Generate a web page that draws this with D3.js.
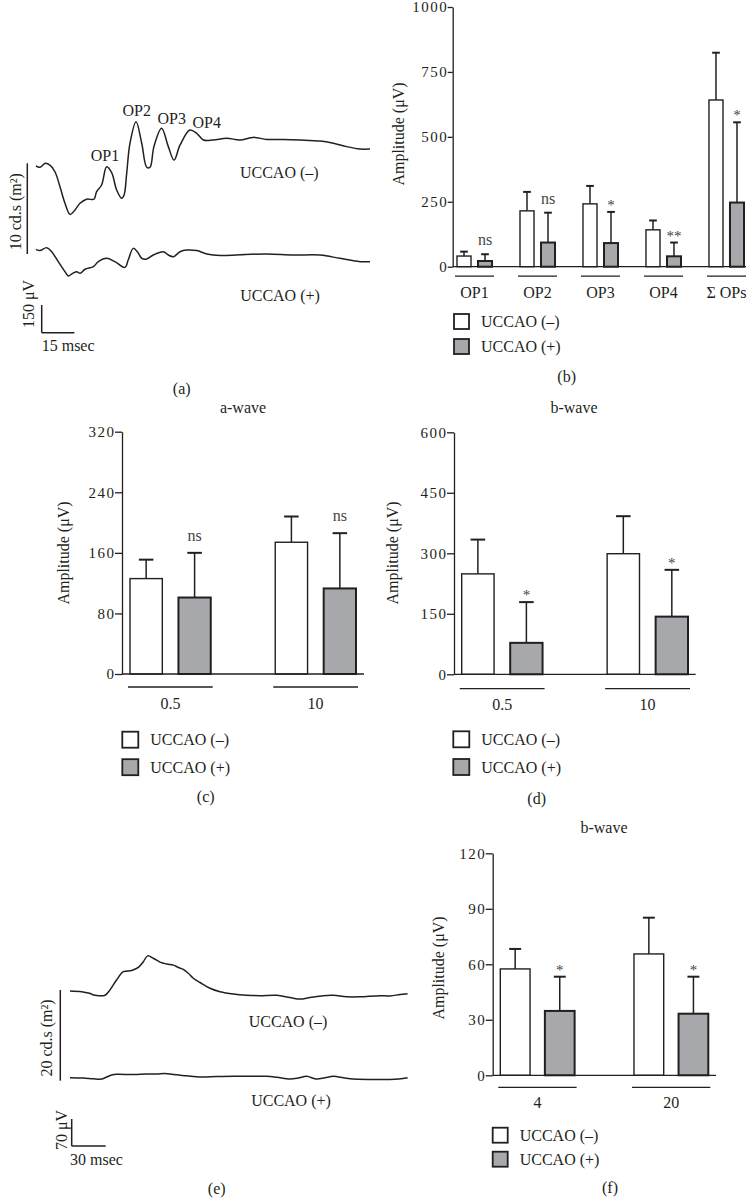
<!DOCTYPE html>
<html>
<head>
<meta charset="utf-8">
<script src="https://cdn.jsdelivr.net/npm/d3@7"></script>
<style>
  body { margin: 0; background: #fff; }
  svg { display: block; }
  text { font-family: "Liberation Serif", "Times New Roman", serif; fill: #231f20; }
</style>
</head>
<body>
<script>
// ---------- DATA ----------
// Panel (a): oscillatory potentials traces (time in ms, amplitude in µV)
const aMinusTime = [0,1.8,4.1,6.4,8.7,11.0,13.3,15.6,17.9,20.2,23.2,26.6,27.8,30.1,32.4,34.7,37.0,39.3,40.4,41.6,43.1,45.9,48.5,50.8,52.3,54.1,57.6,60.7,63.3,66.1,70.6,73.7,76.8,81.3,87.5,93.6,99.7,105.8,113.5,121.1,130.3,136.4,142.5,148.6,153.2];
const aMinus = [0,-7,14,5,-31,-112,-202,-262,-238,-202,-180,-180,-139,-103,-4,-36,-130,-175,-157,-40,123,240,123,-7,-7,105,204,105,32,114,195,177,141,141,150,141,155,144,144,141,135,123,105,92,92];
const aPlusTime = [0,1.8,4.9,7.2,10.2,13.3,14.8,16.8,18.7,20.2,22.5,26.3,28.6,32.4,36.2,40.8,42.3,44.6,46.5,48.5,50.8,53.8,58.4,60.7,63,66.1,69.1,73.7,78.3,84.4,93.6,105.8,118,130.3,139.4,148.6,153.2];
const aPlus = [0,-7,9,-13,-67,-121,-144,-130,-121,-130,-108,-94,-67,-49,-67,-98,-58,5,-13,-49,-52,-31,-13,-31,-40,-13,-4,-7,-25,-34,-29,-25,-31,-31,-49,-67,-67];
const aPeakLabels = ["OP1","OP2","OP3","OP4"];

// Panel (b): OP amplitudes
const bCategories = ["OP1","OP2","OP3","OP4","Σ OPs"];
const bMinus = [41, 215, 242, 142, 642];
const bMinusSD = [17, 73, 69, 36, 182];
const bPlus = [22, 93, 91, 40, 247];
const bPlusSD = [26, 115, 120, 53, 309];
const bSig = ["ns","ns","*","**","*"];
const bTicks = [0, 250, 500, 750, 1000];

// Panel (c): a-wave
const cCategories = ["0.5","10"];
const cMinus = [126, 174];
const cMinusSD = [25, 34];
const cPlus = [101, 113];
const cPlusSD = [59, 73];
const cSig = ["ns","ns"];
const cTicks = [0, 80, 160, 240, 320];

// Panel (d): b-wave
const dCategories = ["0.5","10"];
const dMinus = [249, 299];
const dMinusSD = [85, 93];
const dPlus = [78, 143];
const dPlusSD = [101, 116];
const dSig = ["*","*"];
const dTicks = [0, 150, 300, 450, 600];

// Panel (e): flicker traces
const eMinusTime = [0,10.3,17.1,22.1,30.9,35.3,41.2,47.1,54.4,60.3,64.7,68.5,73.5,79.4,85.3,91.2,95.6,100,104.4,108.8,114.7,123.5,132.4,144.1,155.9,167.6,182.4,194.1,203,211.8,223.5,232.4,244.1,255.9,273.5,282.4,291.2,297.9];
const eMinus = [0,-2,-6,-11,-11,3,29,50,53,61,76,91,85,75,70,67,61,56,46,33,22,7,-2,-8,-11,-12,-11,-17,-21,-17,-12,-11,-15,-15,-12,-13,-9,-7];
const ePlusTime = [0,11.8,20.6,27.9,31.8,36.8,41.2,55.9,67.6,76.5,83.8,91.2,102.9,114.7,129.4,144.1,173.5,182.4,194.1,201.5,208.8,217.6,225,232.4,241.2,250,290,297.9];
const ePlus = [0,-1,-3,-3.5,1,7,9,8,9.5,9.5,11,8,5,2,3,3.5,3.5,1,-3.5,-1,3.5,-3.5,0,3.5,0,-3.5,-3.5,0];

// Panel (f): b-wave (flicker)
const fCategories = ["4","20"];
const fMinus = [57.5, 65.6];
const fMinusSD = [10.8, 19.6];
const fPlus = [34.8, 33.3];
const fPlusSD = [18.5, 20];
const fSig = ["*","*"];
const fTicks = [0, 30, 60, 90, 120];

const groupNames = ["UCCAO (–)", "UCCAO (+)"];

// ---------- DRAWING ----------
const INK = "#231f20";
const GRAY = "#a6a8ab";
const FS = 16;

const svg = d3.select("body").append("svg").attr("width", 748).attr("height", 1198);

function label(x, y, txt, opts = {}) {
  const t = svg.append("text")
    .attr("x", x).attr("y", y)
    .attr("text-anchor", opts.anchor || "middle")
    .attr("dy", "0.35em")
    .attr("font-size", opts.size || FS)
    .text(txt);
  if (opts.rotate) {
    t.attr("x", 0).attr("y", 0).attr("transform", `translate(${x},${y}) rotate(-90)`);
  }
  return t;
}

function vline(x, y1, y2, w = 1.3) {
  svg.append("line").attr("x1", x).attr("x2", x).attr("y1", y1).attr("y2", y2)
    .attr("stroke", INK).attr("stroke-width", w);
}
function hline(x1, x2, y, w = 1.3) {
  svg.append("line").attr("x1", x1).attr("x2", x2).attr("y1", y).attr("y2", y)
    .attr("stroke", INK).attr("stroke-width", w);
}

function trace(times, values, xs, ys) {
  const line = d3.line()
    .x((d, i) => xs(times[i]))
    .y(d => ys(d))
    .curve(d3.curveCatmullRom.alpha(0.5));
  svg.append("path").datum(values).attr("d", line)
    .attr("fill", "none").attr("stroke", INK).attr("stroke-width", 1.5)
    .attr("stroke-linejoin", "round");
}

// ---- Panel (a) ----
{
  const xA = d3.scaleLinear().domain([0, 15]).range([36, 36 + 32.7]);
  const yAm = d3.scaleLinear().domain([0, 150]).range([166, 166 - 27.7]);
  const yAp = d3.scaleLinear().domain([0, 150]).range([249.3, 249.3 - 27.7]);
  trace(aMinusTime, aMinus, xA, yAm);
  trace(aPlusTime, aPlus, xA, yAp);
  vline(27.3, 163.3, 254, 1.5);
  label(15.7, 211.7, "10 cd.s (m²)", { rotate: true });
  const peakPos = [[105, 155], [136.7, 110], [171.7, 118.3], [206.7, 122.3]];
  aPeakLabels.forEach((p, i) => label(peakPos[i][0], peakPos[i][1], p));
  label(279.3, 172.7, groupNames[0]);
  label(280, 295, groupNames[1]);
  const sb0 = xA(0) + 5.7, sbY = 332.7;
  const yScaleBar = d3.scaleLinear().domain([0, 150]).range([sbY, sbY - 27.7]);
  vline(sb0, yScaleBar(150), yScaleBar(0), 1.5);
  hline(sb0, sb0 + (xA(15) - xA(0)), sbY, 1.5);
  label(28, 304, "150 μV", { rotate: true });
  label(41.7, 345, "15 msec", { anchor: "start" });
  label(181.7, 388, "(a)");
}

// ---- Panel (e) ----
{
  const xE = d3.scaleLinear().domain([0, 30]).range([70, 70 + 34]);
  const yEm = d3.scaleLinear().domain([0, 70]).range([991, 991 - 27]);
  const yEp = d3.scaleLinear().domain([0, 70]).range([1077.7, 1077.7 - 27]);
  trace(eMinusTime, eMinus, xE, yEm);
  trace(ePlusTime, ePlus, xE, yEp);
  vline(60.3, 990, 1080.7, 1.5);
  label(46.7, 1038, "20 cd.s (m²)", { rotate: true });
  label(288, 1021.7, groupNames[0]);
  label(291, 1100, groupNames[1]);
  const sb0 = 71.7, sbY = 1146;
  const yScaleBar = d3.scaleLinear().domain([0, 70]).range([sbY, sbY - 27]);
  vline(sb0, yScaleBar(70), yScaleBar(0), 1.5);
  hline(sb0, sb0 + (xE(30) - xE(0)), sbY, 1.5);
  label(61.7, 1130, "70 μV", { rotate: true });
  label(70, 1159.3, "30 msec", { anchor: "start" });
  label(216.7, 1188, "(e)");
}

// ---- Bar panels ----
function barPanel(o) {
  const y = d3.scaleLinear().domain([0, d3.max(o.ticks)]).range([o.yBase, o.yTop]);
  const xg = d3.scaleBand().domain(o.cats).range([o.gLeft, o.gRight]).paddingInner(0.444).paddingOuter(0);
  const xs = d3.scaleBand().domain(["minus", "plus"]).range([0, xg.bandwidth()]).paddingInner(0.333).paddingOuter(0);
  const g = svg.append("g");

  const rows = o.cats.flatMap((c, i) => [
    { cat: c, s: "minus", v: o.minus[i], sd: o.minusSD[i] },
    { cat: c, s: "plus", v: o.plus[i], sd: o.plusSD[i], sig: o.sig[i] }
  ]);
  const cx = d => xg(d.cat) + xs(d.s) + xs.bandwidth() / 2;
  const cap = xs.bandwidth() * o.capFrac;

  g.selectAll(".err").data(rows).join("line")
    .attr("x1", cx).attr("x2", cx)
    .attr("y1", d => y(d.v)).attr("y2", d => y(d.v + d.sd))
    .attr("stroke", INK).attr("stroke-width", 1.5);
  g.selectAll(".cap").data(rows).join("line")
    .attr("x1", d => cx(d) - cap / 2).attr("x2", d => cx(d) + cap / 2)
    .attr("y1", d => y(d.v + d.sd)).attr("y2", d => y(d.v + d.sd))
    .attr("stroke", INK).attr("stroke-width", 2);

  g.selectAll(".bar").data(rows).join("rect")
    .attr("x", d => xg(d.cat) + xs(d.s))
    .attr("y", d => y(d.v))
    .attr("width", xs.bandwidth())
    .attr("height", d => o.yBase - y(d.v))
    .attr("fill", d => d.s === "minus" ? "#fff" : GRAY)
    .attr("stroke", INK)
    .attr("stroke-width", d => d.s === "minus" ? 1.4 : 2);

  g.selectAll(".sig").data(rows.filter(d => d.sig)).join("text")
    .attr("x", cx)
    .attr("y", d => y(d.v + d.sd) - (d.sig === "ns" ? o.nsGap : 2))
    .attr("text-anchor", "middle")
    .attr("font-size", d => d.sig === "ns" ? FS : 15)
    .style("fill", "#444")
    .text(d => d.sig);

  const ax = svg.append("g").attr("transform", `translate(${o.x0},0)`)
    .call(d3.axisLeft(y).tickValues(o.ticks).tickFormat(d3.format("d"))
      .tickSize(o.tick).tickSizeOuter(0).tickPadding(1));
  ax.select(".domain").attr("stroke", INK).attr("stroke-width", 1.3);
  ax.selectAll(".tick line").attr("stroke", INK).attr("stroke-width", 1.3);
  ax.selectAll(".tick text")
    .style("font-family", '"Liberation Serif", serif')
    .attr("font-size", 15).attr("letter-spacing", "1.5px").attr("dx", "1.5px")
    .style("fill", INK);
  hline(o.x0, o.x1, o.yBase, 1.3);

  o.cats.forEach(c => {
    const l = xg(c) - 2, r = xg(c) + xg.bandwidth() + 2;
    hline(l, r, o.yBase + o.ulDy, 1.3);
    label((l + r) / 2, o.yBase + o.lblDy, c);
  });

  label(o.ylabX, o.ylabY, "Amplitude (μV)", { rotate: true });
  if (o.title) label(o.title[1], o.title[2], o.title[0]);

  groupNames.forEach((n, i) => {
    const yy = o.legY + i * o.legGap;
    svg.append("rect").attr("x", o.legX).attr("y", yy).attr("width", o.legBox).attr("height", o.legBox)
      .attr("fill", i === 0 ? "#fff" : GRAY).attr("stroke", INK).attr("stroke-width", 1.8);
    label(o.legX + o.legBox + 12, yy + o.legBox / 2, n, { anchor: "start" });
  });
  label(o.panel[1], o.panel[2], o.panel[0]);
}

barPanel({
  cats: bCategories, minus: bMinus, minusSD: bMinusSD, plus: bPlus, plusSD: bPlusSD, sig: bSig, ticks: bTicks,
  x0: 452.7, x1: 746, yBase: 266.7, yTop: 7, gLeft: 457, gRight: 744, tick: 5, capFrac: 0.55, nsGap: 9,
  ulDy: 9.5, lblDy: 25.5, ylabX: 398, ylabY: 134, title: null,
  legX: 454, legY: 314, legGap: 25, legBox: 15, panel: ["(b)", 566.7, 376.7]
});

barPanel({
  cats: cCategories, minus: cMinus, minusSD: cMinusSD, plus: cPlus, plusSD: cPlusSD, sig: cSig, ticks: cTicks,
  x0: 122, x1: 364, yBase: 674, yTop: 431.7, gLeft: 130, gRight: 356, tick: 7, capFrac: 0.45, nsGap: 12,
  ulDy: 13, lblDy: 29, ylabX: 63, ylabY: 553, title: ["a-wave", 243, 407],
  legX: 122.3, legY: 731.7, legGap: 27.5, legBox: 16, panel: ["(c)", 205.7, 796.7]
});

barPanel({
  cats: dCategories, minus: dMinus, minusSD: dMinusSD, plus: dPlus, plusSD: dPlusSD, sig: dSig, ticks: dTicks,
  x0: 454, x1: 695.7, yBase: 674.3, yTop: 432.3, gLeft: 461.7, gRight: 688, tick: 7, capFrac: 0.45, nsGap: 12,
  ulDy: 14.4, lblDy: 30, ylabX: 392.3, ylabY: 553, title: ["b-wave", 574, 407],
  legX: 453.3, legY: 731.3, legGap: 27.7, legBox: 16, panel: ["(d)", 536.7, 798]
});

barPanel({
  cats: fCategories, minus: fMinus, minusSD: fMinusSD, plus: fPlus, plusSD: fPlusSD, sig: fSig, ticks: fTicks,
  x0: 492.7, x1: 716, yBase: 1075.3, yTop: 853.3, gLeft: 500.3, gRight: 708.3, tick: 7, capFrac: 0.4, nsGap: 12,
  ulDy: 12, lblDy: 27.4, ylabX: 438, ylabY: 968, title: ["b-wave", 604, 827],
  legX: 492.7, legY: 1127.7, legGap: 24, legBox: 15, panel: ["(f)", 610, 1187]
});
</script>
</body>
</html>
